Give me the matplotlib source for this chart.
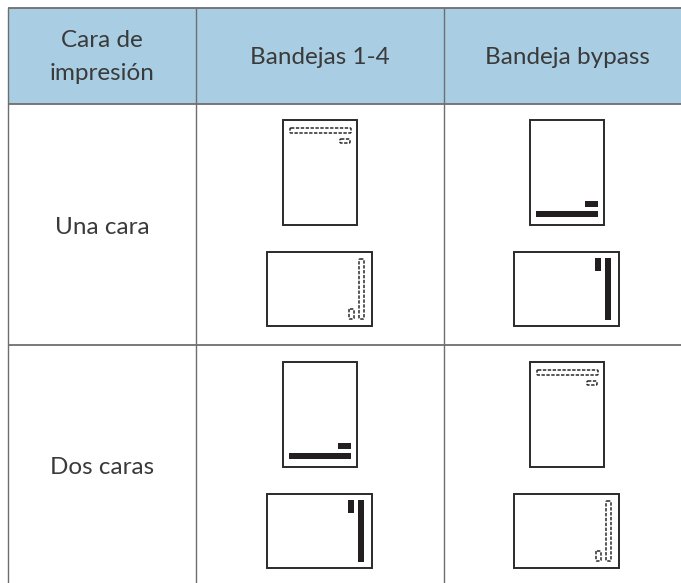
import matplotlib
matplotlib.use("Agg")
import matplotlib.pyplot as plt
from matplotlib.patches import Rectangle, FancyBboxPatch

# table text
col_labels = ["Cara de\nimpresión", "Bandejas 1-4", "Bandeja bypass"]
row_labels = ["Una cara", "Dos caras"]

# which icon goes in each cell: dashed outline or solid black marks
row1_marks = ["dashed", "solid"]
row2_marks = ["solid", "dashed"]

# layout in pixels
W, H = 681, 583
col_x = [8, 196, 444, 681]
row_y = [8, 104, 345, 583]
col_mid = [102, 320, 567]
row_mid = [227, 468]
port_x = [283, 530]
land_x = [267, 514]
port_y = [120, 362]
land_y = [252, 494]
port_w, port_h = 74, 105
land_w, land_h = 105, 74

line_col = "#6e6e6e"
text_col = "#3a3a3a"
head_col = "#a9cee3"
ink = "#231f20"

plt.rcParams["font.family"] = ["Lato", "DejaVu Sans"]

fig = plt.figure(figsize=(W / 100, H / 100), dpi=100)
ax = fig.add_axes([0, 0, 1, 1])
ax.set_xlim(0, W)
ax.set_ylim(H, 0)
ax.axis("off")


def mark(x, y, w, h, style):
    # one mark of an icon, dashed rounded box or a black bar
    if style == "solid":
        ax.add_patch(Rectangle((x, y), w, h, fc=ink, ec="none"))
    else:
        ax.add_patch(FancyBboxPatch((x + 1, y + 1), w - 2, h - 2,
                                    boxstyle="round,pad=0,rounding_size=1",
                                    fc="white", ec="#2a2a2a", lw=1.1,
                                    ls=(0, (2.2, 1.0))))


def page(x, y, portrait, style):
    w, h = (port_w, port_h) if portrait else (land_w, land_h)
    ax.add_patch(Rectangle((x, y), w, h, fc="white", ec="#2a2a2a", lw=1.4))
    if portrait:
        if style == "solid":
            mark(x + 6, y + 91, 62, 6, style)
            mark(x + 55, y + 81, 13, 6, style)
        else:
            mark(x + 6, y + 7, 63, 7, style)
            mark(x + 56, y + 18, 12, 6, style)
    else:
        if style == "solid":
            mark(x + 91, y + 6, 6, 62, style)
            mark(x + 81, y + 6, 6, 13, style)
        else:
            mark(x + 91, y + 6, 7, 62, style)
            mark(x + 81, y + 56, 7, 12, style)


# header band and grid
ax.add_patch(Rectangle((col_x[0], row_y[0]), W - col_x[0], row_y[1] - row_y[0],
                       fc=head_col, ec="none"))
for y in row_y[:3]:
    ax.plot([col_x[0], W], [y, y], color=line_col, lw=1.3, solid_capstyle="butt")
for x in col_x[:3]:
    ax.plot([x, x], [row_y[0], H], color=line_col, lw=1.0, solid_capstyle="butt")

# text
for x, label in zip(col_mid, col_labels):
    ax.text(x, 57, label, ha="center", va="center", fontsize=17.5,
            color=text_col, linespacing=1.75)
for y, label in zip(row_mid, row_labels):
    ax.text(col_mid[0], y, label, ha="center", va="center", fontsize=17.5,
            color=text_col)

# paper icons
for r, marks in enumerate([row1_marks, row2_marks]):
    for c, style in enumerate(marks):
        page(port_x[c], port_y[r], True, style)
        page(land_x[c], land_y[r], False, style)

fig.savefig("out.png", dpi=100)
